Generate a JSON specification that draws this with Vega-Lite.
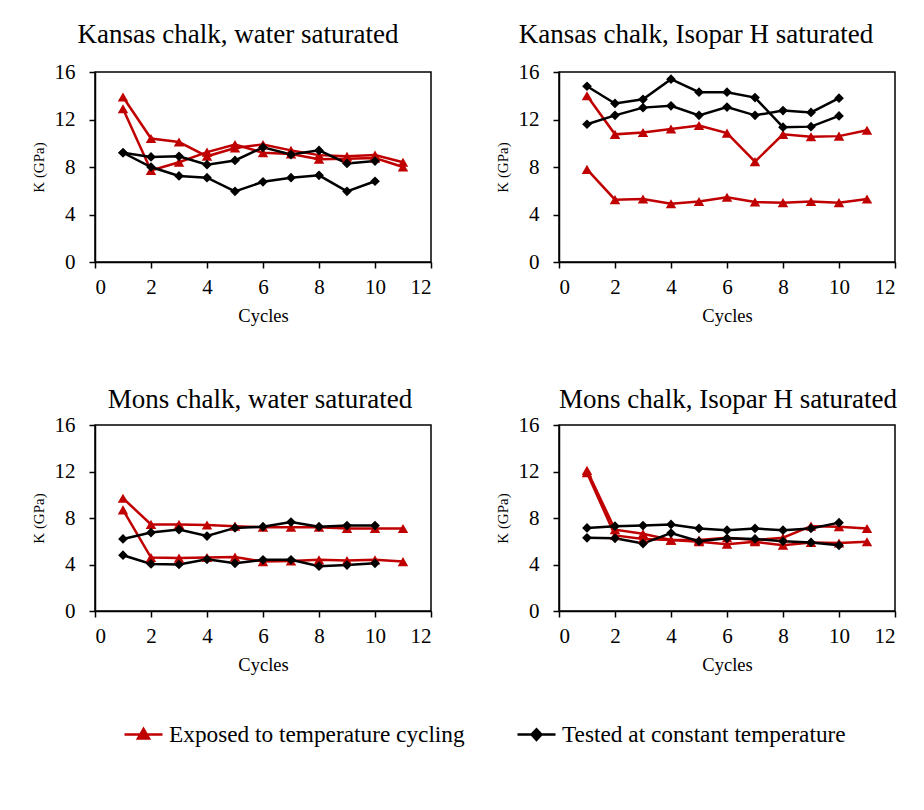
{
  "$schema": "https://vega.github.io/schema/vega-lite/v6.json",
  "padding": {"left": 30, "top": 20, "right": 10, "bottom": 10},
  "background": "white",
  "config": {
    "font": "Liberation Serif",
    "view": {"stroke": "black", "strokeWidth": 1.5},
    "axis": {"domainColor": "black", "tickColor": "black", "labelColor": "black", "titleColor": "black", "labelFont": "Liberation Serif", "titleFont": "Liberation Serif", "labelFontSize": 21, "titleFontWeight": "normal", "grid": false, "tickSize": 6, "domainWidth": 1.5, "tickWidth": 1.5},
    "axisX": {"titlePadding": 9, "labelPadding": 8, "titleFontSize": 18.5, "labelFont": "Liberation Serif", "titleFont": "Liberation Serif"},
    "axisY": {"titlePadding": 8, "labelPadding": 14, "titleFontSize": 15, "labelFont": "Liberation Serif", "titleFont": "Liberation Serif"}
  },
  "data": {"values": [
    {"panel":"KW","group":"Exposed","series":"1","cycle":1,"K":13.9},{"panel":"KW","group":"Exposed","series":"1","cycle":2,"K":10.4},{"panel":"KW","group":"Exposed","series":"1","cycle":3,"K":10.1},{"panel":"KW","group":"Exposed","series":"1","cycle":4,"K":8.9},{"panel":"KW","group":"Exposed","series":"1","cycle":5,"K":9.6},{"panel":"KW","group":"Exposed","series":"1","cycle":6,"K":9.9},{"panel":"KW","group":"Exposed","series":"1","cycle":7,"K":9.4},{"panel":"KW","group":"Exposed","series":"1","cycle":8,"K":9.0},{"panel":"KW","group":"Exposed","series":"1","cycle":9,"K":8.9},{"panel":"KW","group":"Exposed","series":"1","cycle":10,"K":9.0},{"panel":"KW","group":"Exposed","series":"1","cycle":11,"K":8.4},
    {"panel":"KW","group":"Exposed","series":"2","cycle":1,"K":12.9},{"panel":"KW","group":"Exposed","series":"2","cycle":2,"K":7.7},{"panel":"KW","group":"Exposed","series":"2","cycle":3,"K":8.4},{"panel":"KW","group":"Exposed","series":"2","cycle":4,"K":9.25},{"panel":"KW","group":"Exposed","series":"2","cycle":5,"K":9.9},{"panel":"KW","group":"Exposed","series":"2","cycle":6,"K":9.2},{"panel":"KW","group":"Exposed","series":"2","cycle":7,"K":9.1},{"panel":"KW","group":"Exposed","series":"2","cycle":8,"K":8.65},{"panel":"KW","group":"Exposed","series":"2","cycle":9,"K":8.7},{"panel":"KW","group":"Exposed","series":"2","cycle":10,"K":8.75},{"panel":"KW","group":"Exposed","series":"2","cycle":11,"K":8.0},
    {"panel":"KW","group":"Tested","series":"3","cycle":1,"K":9.2},{"panel":"KW","group":"Tested","series":"3","cycle":2,"K":8.85},{"panel":"KW","group":"Tested","series":"3","cycle":3,"K":8.9},{"panel":"KW","group":"Tested","series":"3","cycle":4,"K":8.2},{"panel":"KW","group":"Tested","series":"3","cycle":5,"K":8.55},{"panel":"KW","group":"Tested","series":"3","cycle":6,"K":9.65},{"panel":"KW","group":"Tested","series":"3","cycle":7,"K":9.05},{"panel":"KW","group":"Tested","series":"3","cycle":8,"K":9.4},{"panel":"KW","group":"Tested","series":"3","cycle":9,"K":8.3},{"panel":"KW","group":"Tested","series":"3","cycle":10,"K":8.5},
    {"panel":"KW","group":"Tested","series":"4","cycle":1,"K":9.2},{"panel":"KW","group":"Tested","series":"4","cycle":2,"K":8.0},{"panel":"KW","group":"Tested","series":"4","cycle":3,"K":7.25},{"panel":"KW","group":"Tested","series":"4","cycle":4,"K":7.1},{"panel":"KW","group":"Tested","series":"4","cycle":5,"K":5.95},{"panel":"KW","group":"Tested","series":"4","cycle":6,"K":6.75},{"panel":"KW","group":"Tested","series":"4","cycle":7,"K":7.1},{"panel":"KW","group":"Tested","series":"4","cycle":8,"K":7.3},{"panel":"KW","group":"Tested","series":"4","cycle":9,"K":5.95},{"panel":"KW","group":"Tested","series":"4","cycle":10,"K":6.8},

    {"panel":"KI","group":"Exposed","series":"1","cycle":1,"K":14.0},{"panel":"KI","group":"Exposed","series":"1","cycle":2,"K":10.75},{"panel":"KI","group":"Exposed","series":"1","cycle":3,"K":10.9},{"panel":"KI","group":"Exposed","series":"1","cycle":4,"K":11.2},{"panel":"KI","group":"Exposed","series":"1","cycle":5,"K":11.5},{"panel":"KI","group":"Exposed","series":"1","cycle":6,"K":10.85},{"panel":"KI","group":"Exposed","series":"1","cycle":7,"K":8.45},{"panel":"KI","group":"Exposed","series":"1","cycle":8,"K":10.75},{"panel":"KI","group":"Exposed","series":"1","cycle":9,"K":10.55},{"panel":"KI","group":"Exposed","series":"1","cycle":10,"K":10.6},{"panel":"KI","group":"Exposed","series":"1","cycle":11,"K":11.1},
    {"panel":"KI","group":"Exposed","series":"2","cycle":1,"K":7.8},{"panel":"KI","group":"Exposed","series":"2","cycle":2,"K":5.25},{"panel":"KI","group":"Exposed","series":"2","cycle":3,"K":5.3},{"panel":"KI","group":"Exposed","series":"2","cycle":4,"K":4.9},{"panel":"KI","group":"Exposed","series":"2","cycle":5,"K":5.1},{"panel":"KI","group":"Exposed","series":"2","cycle":6,"K":5.45},{"panel":"KI","group":"Exposed","series":"2","cycle":7,"K":5.05},{"panel":"KI","group":"Exposed","series":"2","cycle":8,"K":5.0},{"panel":"KI","group":"Exposed","series":"2","cycle":9,"K":5.1},{"panel":"KI","group":"Exposed","series":"2","cycle":10,"K":5.0},{"panel":"KI","group":"Exposed","series":"2","cycle":11,"K":5.3},
    {"panel":"KI","group":"Tested","series":"3","cycle":1,"K":14.8},{"panel":"KI","group":"Tested","series":"3","cycle":2,"K":13.35},{"panel":"KI","group":"Tested","series":"3","cycle":3,"K":13.7},{"panel":"KI","group":"Tested","series":"3","cycle":4,"K":15.4},{"panel":"KI","group":"Tested","series":"3","cycle":5,"K":14.3},{"panel":"KI","group":"Tested","series":"3","cycle":6,"K":14.3},{"panel":"KI","group":"Tested","series":"3","cycle":7,"K":13.85},{"panel":"KI","group":"Tested","series":"3","cycle":8,"K":11.35},{"panel":"KI","group":"Tested","series":"3","cycle":9,"K":11.4},{"panel":"KI","group":"Tested","series":"3","cycle":10,"K":12.3},
    {"panel":"KI","group":"Tested","series":"4","cycle":1,"K":11.6},{"panel":"KI","group":"Tested","series":"4","cycle":2,"K":12.35},{"panel":"KI","group":"Tested","series":"4","cycle":3,"K":13.0},{"panel":"KI","group":"Tested","series":"4","cycle":4,"K":13.15},{"panel":"KI","group":"Tested","series":"4","cycle":5,"K":12.35},{"panel":"KI","group":"Tested","series":"4","cycle":6,"K":13.05},{"panel":"KI","group":"Tested","series":"4","cycle":7,"K":12.35},{"panel":"KI","group":"Tested","series":"4","cycle":8,"K":12.75},{"panel":"KI","group":"Tested","series":"4","cycle":9,"K":12.6},{"panel":"KI","group":"Tested","series":"4","cycle":10,"K":13.8},

    {"panel":"MW","group":"Exposed","series":"1","cycle":1,"K":9.7},{"panel":"MW","group":"Exposed","series":"1","cycle":2,"K":7.45},{"panel":"MW","group":"Exposed","series":"1","cycle":3,"K":7.45},{"panel":"MW","group":"Exposed","series":"1","cycle":4,"K":7.4},{"panel":"MW","group":"Exposed","series":"1","cycle":5,"K":7.3},{"panel":"MW","group":"Exposed","series":"1","cycle":6,"K":7.2},{"panel":"MW","group":"Exposed","series":"1","cycle":7,"K":7.2},{"panel":"MW","group":"Exposed","series":"1","cycle":8,"K":7.2},{"panel":"MW","group":"Exposed","series":"1","cycle":9,"K":7.1},{"panel":"MW","group":"Exposed","series":"1","cycle":10,"K":7.1},{"panel":"MW","group":"Exposed","series":"1","cycle":11,"K":7.1},
    {"panel":"MW","group":"Exposed","series":"2","cycle":1,"K":8.7},{"panel":"MW","group":"Exposed","series":"2","cycle":2,"K":4.6},{"panel":"MW","group":"Exposed","series":"2","cycle":3,"K":4.55},{"panel":"MW","group":"Exposed","series":"2","cycle":4,"K":4.6},{"panel":"MW","group":"Exposed","series":"2","cycle":5,"K":4.65},{"panel":"MW","group":"Exposed","series":"2","cycle":6,"K":4.25},{"panel":"MW","group":"Exposed","series":"2","cycle":7,"K":4.3},{"panel":"MW","group":"Exposed","series":"2","cycle":8,"K":4.4},{"panel":"MW","group":"Exposed","series":"2","cycle":9,"K":4.35},{"panel":"MW","group":"Exposed","series":"2","cycle":10,"K":4.4},{"panel":"MW","group":"Exposed","series":"2","cycle":11,"K":4.25},
    {"panel":"MW","group":"Tested","series":"3","cycle":1,"K":6.2},{"panel":"MW","group":"Tested","series":"3","cycle":2,"K":6.75},{"panel":"MW","group":"Tested","series":"3","cycle":3,"K":7.0},{"panel":"MW","group":"Tested","series":"3","cycle":4,"K":6.45},{"panel":"MW","group":"Tested","series":"3","cycle":5,"K":7.15},{"panel":"MW","group":"Tested","series":"3","cycle":6,"K":7.25},{"panel":"MW","group":"Tested","series":"3","cycle":7,"K":7.65},{"panel":"MW","group":"Tested","series":"3","cycle":8,"K":7.25},{"panel":"MW","group":"Tested","series":"3","cycle":9,"K":7.35},{"panel":"MW","group":"Tested","series":"3","cycle":10,"K":7.35},
    {"panel":"MW","group":"Tested","series":"4","cycle":1,"K":4.8},{"panel":"MW","group":"Tested","series":"4","cycle":2,"K":4.05},{"panel":"MW","group":"Tested","series":"4","cycle":3,"K":4.0},{"panel":"MW","group":"Tested","series":"4","cycle":4,"K":4.45},{"panel":"MW","group":"Tested","series":"4","cycle":5,"K":4.1},{"panel":"MW","group":"Tested","series":"4","cycle":6,"K":4.4},{"panel":"MW","group":"Tested","series":"4","cycle":7,"K":4.4},{"panel":"MW","group":"Tested","series":"4","cycle":8,"K":3.85},{"panel":"MW","group":"Tested","series":"4","cycle":9,"K":3.95},{"panel":"MW","group":"Tested","series":"4","cycle":10,"K":4.1},

    {"panel":"MI","group":"Exposed","series":"1","cycle":1,"K":12.1},{"panel":"MI","group":"Exposed","series":"1","cycle":2,"K":7.0},{"panel":"MI","group":"Exposed","series":"1","cycle":3,"K":6.65},{"panel":"MI","group":"Exposed","series":"1","cycle":4,"K":6.1},{"panel":"MI","group":"Exposed","series":"1","cycle":5,"K":6.1},{"panel":"MI","group":"Exposed","series":"1","cycle":6,"K":6.3},{"panel":"MI","group":"Exposed","series":"1","cycle":7,"K":6.1},{"panel":"MI","group":"Exposed","series":"1","cycle":8,"K":6.3},{"panel":"MI","group":"Exposed","series":"1","cycle":9,"K":7.3},{"panel":"MI","group":"Exposed","series":"1","cycle":10,"K":7.25},{"panel":"MI","group":"Exposed","series":"1","cycle":11,"K":7.1},
    {"panel":"MI","group":"Exposed","series":"2","cycle":1,"K":11.9},{"panel":"MI","group":"Exposed","series":"2","cycle":2,"K":6.5},{"panel":"MI","group":"Exposed","series":"2","cycle":3,"K":6.2},{"panel":"MI","group":"Exposed","series":"2","cycle":4,"K":6.1},{"panel":"MI","group":"Exposed","series":"2","cycle":5,"K":5.95},{"panel":"MI","group":"Exposed","series":"2","cycle":6,"K":5.75},{"panel":"MI","group":"Exposed","series":"2","cycle":7,"K":5.95},{"panel":"MI","group":"Exposed","series":"2","cycle":8,"K":5.65},{"panel":"MI","group":"Exposed","series":"2","cycle":9,"K":5.9},{"panel":"MI","group":"Exposed","series":"2","cycle":10,"K":5.85},{"panel":"MI","group":"Exposed","series":"2","cycle":11,"K":5.95},
    {"panel":"MI","group":"Tested","series":"3","cycle":1,"K":7.15},{"panel":"MI","group":"Tested","series":"3","cycle":2,"K":7.3},{"panel":"MI","group":"Tested","series":"3","cycle":3,"K":7.35},{"panel":"MI","group":"Tested","series":"3","cycle":4,"K":7.45},{"panel":"MI","group":"Tested","series":"3","cycle":5,"K":7.1},{"panel":"MI","group":"Tested","series":"3","cycle":6,"K":6.95},{"panel":"MI","group":"Tested","series":"3","cycle":7,"K":7.1},{"panel":"MI","group":"Tested","series":"3","cycle":8,"K":6.95},{"panel":"MI","group":"Tested","series":"3","cycle":9,"K":7.1},{"panel":"MI","group":"Tested","series":"3","cycle":10,"K":7.6},
    {"panel":"MI","group":"Tested","series":"4","cycle":1,"K":6.3},{"panel":"MI","group":"Tested","series":"4","cycle":2,"K":6.25},{"panel":"MI","group":"Tested","series":"4","cycle":3,"K":5.8},{"panel":"MI","group":"Tested","series":"4","cycle":4,"K":6.7},{"panel":"MI","group":"Tested","series":"4","cycle":5,"K":6.0},{"panel":"MI","group":"Tested","series":"4","cycle":6,"K":6.25},{"panel":"MI","group":"Tested","series":"4","cycle":7,"K":6.2},{"panel":"MI","group":"Tested","series":"4","cycle":8,"K":6.0},{"panel":"MI","group":"Tested","series":"4","cycle":9,"K":5.9},{"panel":"MI","group":"Tested","series":"4","cycle":10,"K":5.65}
  ]},
  "resolve": {"scale": {"color": "shared"}},
  "spacing": 59,
  "vconcat": [
    {"hconcat": [
      {
        "width": 336, "height": 190,
        "title": {"text": "Kansas chalk, water saturated", "font": "Liberation Serif", "fontSize": 27, "fontWeight": "normal", "color": "black", "dx": -25, "offset": 12},
        "transform": [{"filter": "datum.panel == 'KW'"}],
        "encoding": {
          "x": {"field": "cycle", "type": "quantitative", "scale": {"domain": [0, 12]}, "axis": {"values": [0, 2, 4, 6, 8, 10, 12], "title": "Cycles", "labelFont": "Liberation Serif", "titleFont": "Liberation Serif"}},
          "y": {"field": "K", "type": "quantitative", "scale": {"domain": [0, 16]}, "axis": {"values": [0, 4, 8, 12, 16], "title": "K (GPa)", "labelFont": "Liberation Serif", "titleFont": "Liberation Serif"}},
          "color": {"field": "group", "type": "nominal", "scale": {"domain": ["Exposed", "Tested"], "range": ["#C00000", "#000000"]},
            "legend": {"orient": "none", "legendX": 28, "legendY": 642, "direction": "horizontal", "title": null, "symbolSize": 1444, "symbolType": "M-1,0H1", "labelFont": "Liberation Serif", "labelFontSize": 23.3, "labelColor": "black", "labelLimit": 0, "columnPadding": 47, "labelOffset": 5,
              "labelExpr": "datum.value == 'Exposed' ? 'Exposed to temperature cycling' : 'Tested at constant temperature'",
              "encode": {"symbols": {"update": {
                "shape": {"signal": "datum.value == 'Exposed' ? 'M-1,0H1M0,-0.3L0.29,0.2L-0.29,0.2Z' : 'M-1,0H1M0,-0.28L0.26,0L0,0.28L-0.26,0Z'"},
                "fill": {"signal": "datum.value == 'Exposed' ? '#C00000' : '#000000'"},
                "stroke": {"signal": "datum.value == 'Exposed' ? '#C00000' : '#000000'"},
                "strokeWidth": {"value": 2.5},
                "opacity": {"value": 1}
              }}}
            }}
        },
        "layer": [
          {"mark": {"type": "line", "strokeWidth": 2.5}, "encoding": {"detail": {"field": "series"}}},
          {"transform": [{"filter": "datum.group == 'Exposed'"}], "mark": {"type": "point", "shape": "triangle-up", "filled": true, "size": 110, "opacity": 1}},
          {"transform": [{"filter": "datum.group == 'Tested'"}], "mark": {"type": "point", "shape": "diamond", "filled": true, "size": 95, "opacity": 1}}
        ]
      },
      {
        "width": 336, "height": 190,
        "title": {"text": "Kansas chalk, Isopar H saturated", "font": "Liberation Serif", "fontSize": 27, "fontWeight": "normal", "color": "black", "dx": -31, "offset": 12},
        "transform": [{"filter": "datum.panel == 'KI'"}],
        "encoding": {
          "x": {"field": "cycle", "type": "quantitative", "scale": {"domain": [0, 12]}, "axis": {"values": [0, 2, 4, 6, 8, 10, 12], "title": "Cycles", "labelFont": "Liberation Serif", "titleFont": "Liberation Serif"}},
          "y": {"field": "K", "type": "quantitative", "scale": {"domain": [0, 16]}, "axis": {"values": [0, 4, 8, 12, 16], "title": "K (GPa)", "labelFont": "Liberation Serif", "titleFont": "Liberation Serif"}},
          "color": {"field": "group", "type": "nominal"}
        },
        "layer": [
          {"mark": {"type": "line", "strokeWidth": 2.5}, "encoding": {"detail": {"field": "series"}}},
          {"transform": [{"filter": "datum.group == 'Exposed'"}], "mark": {"type": "point", "shape": "triangle-up", "filled": true, "size": 110, "opacity": 1}},
          {"transform": [{"filter": "datum.group == 'Tested'"}], "mark": {"type": "point", "shape": "diamond", "filled": true, "size": 95, "opacity": 1}}
        ]
      }
    ], "spacing": 61},
    {"hconcat": [
      {
        "width": 336, "height": 186,
        "title": {"text": "Mons chalk, water saturated", "font": "Liberation Serif", "fontSize": 27, "fontWeight": "normal", "color": "black", "dx": -3, "offset": 0},
        "transform": [{"filter": "datum.panel == 'MW'"}],
        "encoding": {
          "x": {"field": "cycle", "type": "quantitative", "scale": {"domain": [0, 12]}, "axis": {"values": [0, 2, 4, 6, 8, 10, 12], "title": "Cycles", "labelFont": "Liberation Serif", "titleFont": "Liberation Serif"}},
          "y": {"field": "K", "type": "quantitative", "scale": {"domain": [0, 16]}, "axis": {"values": [0, 4, 8, 12, 16], "title": "K (GPa)", "labelFont": "Liberation Serif", "titleFont": "Liberation Serif"}},
          "color": {"field": "group", "type": "nominal"}
        },
        "layer": [
          {"mark": {"type": "line", "strokeWidth": 2.5}, "encoding": {"detail": {"field": "series"}}},
          {"transform": [{"filter": "datum.group == 'Exposed'"}], "mark": {"type": "point", "shape": "triangle-up", "filled": true, "size": 110, "opacity": 1}},
          {"transform": [{"filter": "datum.group == 'Tested'"}], "mark": {"type": "point", "shape": "diamond", "filled": true, "size": 95, "opacity": 1}}
        ]
      },
      {
        "width": 336, "height": 186,
        "title": {"text": "Mons chalk, Isopar H saturated", "font": "Liberation Serif", "fontSize": 27, "fontWeight": "normal", "color": "black", "dx": 1, "offset": 0},
        "transform": [{"filter": "datum.panel == 'MI'"}],
        "encoding": {
          "x": {"field": "cycle", "type": "quantitative", "scale": {"domain": [0, 12]}, "axis": {"values": [0, 2, 4, 6, 8, 10, 12], "title": "Cycles", "labelFont": "Liberation Serif", "titleFont": "Liberation Serif"}},
          "y": {"field": "K", "type": "quantitative", "scale": {"domain": [0, 16]}, "axis": {"values": [0, 4, 8, 12, 16], "title": "K (GPa)", "labelFont": "Liberation Serif", "titleFont": "Liberation Serif"}},
          "color": {"field": "group", "type": "nominal"}
        },
        "layer": [
          {"mark": {"type": "line", "strokeWidth": 2.5}, "encoding": {"detail": {"field": "series"}}},
          {"transform": [{"filter": "datum.group == 'Exposed'"}], "mark": {"type": "point", "shape": "triangle-up", "filled": true, "size": 110, "opacity": 1}},
          {"transform": [{"filter": "datum.group == 'Tested'"}], "mark": {"type": "point", "shape": "diamond", "filled": true, "size": 95, "opacity": 1}}
        ]
      }
    ], "spacing": 61}
  ]
}
